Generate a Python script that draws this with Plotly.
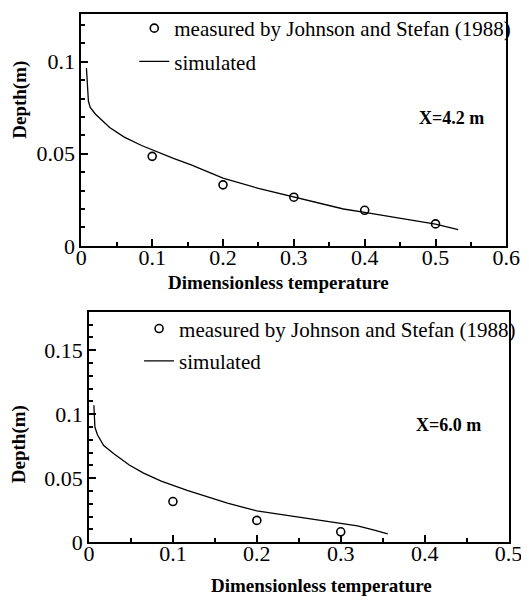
import plotly.graph_objects as go

# X = 4.2 m panel
top_meas_x = [0.1, 0.2, 0.3, 0.4, 0.5]
top_meas_y = [0.0486, 0.0331, 0.0264, 0.0193, 0.0119]
top_sim_x = [0.0072, 0.0080, 0.0090, 0.0100, 0.0125, 0.020, 0.040, 0.060, 0.085, 0.105,
             0.130, 0.155, 0.200, 0.250, 0.300, 0.340, 0.370, 0.400, 0.450, 0.500, 0.532]
top_sim_y = [0.0965, 0.0900, 0.0830, 0.0785, 0.0752, 0.0715, 0.0643, 0.0592, 0.0545, 0.0512,
             0.0475, 0.0440, 0.0368, 0.0312, 0.0265, 0.0228, 0.0200, 0.0182, 0.0150, 0.0118, 0.0088]

# X = 6.0 m panel
bot_meas_x = [0.1, 0.2, 0.3]
bot_meas_y = [0.0318, 0.0171, 0.0082]
bot_sim_x = [0.0058, 0.0062, 0.0070, 0.0100, 0.0175, 0.030, 0.048, 0.065, 0.086, 0.117,
             0.140, 0.165, 0.200, 0.243, 0.280, 0.320, 0.340, 0.356]
bot_sim_y = [0.1070, 0.0980, 0.0900, 0.0840, 0.0756, 0.0690, 0.0603, 0.0540, 0.0477, 0.0405,
             0.0355, 0.0305, 0.0245, 0.0202, 0.0167, 0.0128, 0.0095, 0.0066]

meas_name = "measured by Johnson and Stefan (1988)"
sim_name = "simulated"
FONT = "Liberation Serif, Times New Roman, serif"

fig = go.Figure()

marker = dict(symbol="circle-open", size=8, color="black", line=dict(width=1.6, color="black"))

fig.add_trace(go.Scatter(x=top_meas_x, y=top_meas_y, mode="markers", name=meas_name,
                         marker=marker, xaxis="x", yaxis="y", legend="legend", legendgroup="a"))
fig.add_trace(go.Scatter(x=top_sim_x, y=top_sim_y, mode="lines", name=sim_name,
                         line=dict(color="black", width=1.3), xaxis="x", yaxis="y",
                         legend="legend", legendgroup="b"))
fig.add_trace(go.Scatter(x=bot_meas_x, y=bot_meas_y, mode="markers", name=meas_name,
                         marker=marker, xaxis="x2", yaxis="y2", legend="legend2", legendgroup="c"))
fig.add_trace(go.Scatter(x=bot_sim_x, y=bot_sim_y, mode="lines", name=sim_name,
                         line=dict(color="black", width=1.3), xaxis="x2", yaxis="y2",
                         legend="legend2", legendgroup="d"))

axis_common = dict(showline=True, mirror=True, linewidth=2, linecolor="black",
                   showgrid=False, zeroline=False, ticks="inside", ticklen=7, tickwidth=2,
                   tickcolor="black", tickfont=dict(family=FONT, size=22, color="black"))

fig.update_layout(
    width=529, height=605,
    margin=dict(l=0, r=0, t=0, b=0),
    paper_bgcolor="white", plot_bgcolor="white",
    font=dict(family=FONT, color="black"),
    xaxis=dict(axis_common, domain=[0.1323, 0.9673], range=[0, 0.6], dtick=0.1,
               tickformat="~g", anchor="y", ticklabelstandoff=-9,
               minor=dict(dtick=0.05, ticks="inside", ticklen=4, tickcolor="black")),
    yaxis=dict(axis_common, domain=[0.5983, 0.9901], range=[0, 0.126], dtick=0.05,
               tickformat="~g", anchor="x",
               minor=dict(dtick=0.01, ticks="inside", ticklen=4, tickcolor="black")),
    xaxis2=dict(axis_common, domain=[0.1474, 0.9716], range=[0, 0.5], dtick=0.1,
                tickformat="~g", anchor="y2", ticklabelstandoff=-10,
                minor=dict(dtick=0.05, ticks="inside", ticklen=4, tickcolor="black")),
    yaxis2=dict(axis_common, domain=[0.0975, 0.4868], range=[0, 0.18], dtick=0.05,
                tickformat="~g", anchor="x2",
                minor=dict(dtick=0.01, ticks="inside", ticklen=4, tickcolor="black")),
    legend=dict(x=125 / 529, y=1.0, xanchor="left", yanchor="top",
                bgcolor="rgba(0,0,0,0)", font=dict(family=FONT, size=21),
                traceorder="grouped", tracegroupgap=3, itemwidth=30),
    legend2=dict(x=130 / 529, y=1 - 307 / 605, xanchor="left", yanchor="top",
                 bgcolor="rgba(0,0,0,0)", font=dict(family=FONT, size=21),
                 traceorder="grouped", tracegroupgap=2, itemwidth=30),
    showlegend=True,
)

title_font = dict(family=FONT, size=19, color="black", weight="bold")
for txt, px, py, ang in [("Depth(m)", 6, 94, -90), ("Depth(m)", 6, 446, -90),
                         ("Dimensionless temperature", 275, 281, 0),
                         ("Dimensionless temperature", 320, 590, 0)]:
    fig.add_annotation(text=txt, textangle=ang, x=px / 529, y=1 - py / 605,
                       xref="paper", yref="paper", xanchor="center", yanchor="middle",
                       showarrow=False, font=title_font)

ann_font = dict(family=FONT, size=18, color="black", weight="bold")
fig.add_annotation(text="X=4.2 m", x=0.523, y=0.0695, xref="x", yref="y",
                   xanchor="center", yanchor="middle", showarrow=False, font=ann_font)
fig.add_annotation(text="X=6.0 m", x=0.429, y=0.0913, xref="x2", yref="y2",
                   xanchor="center", yanchor="middle", showarrow=False, font=ann_font)

fig.write_html("out.html")
